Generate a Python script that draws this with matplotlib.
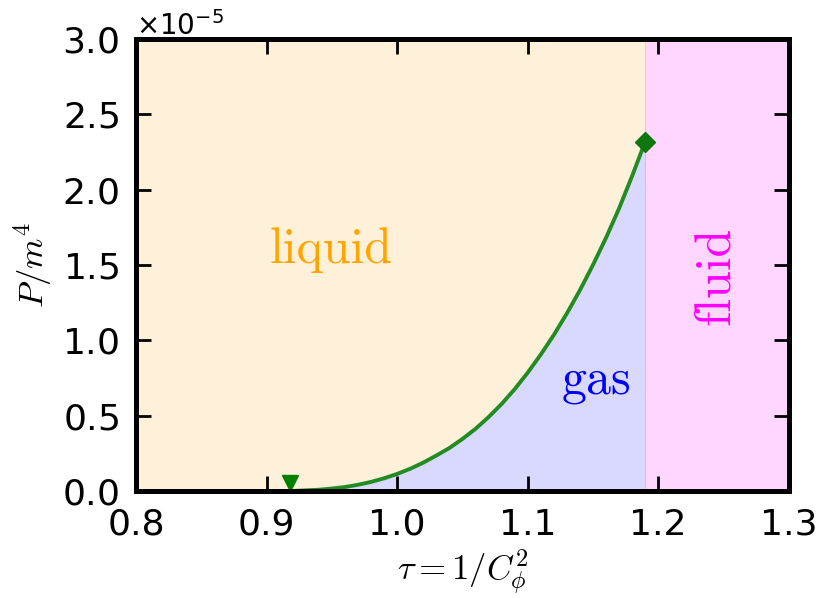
import matplotlib
matplotlib.use("Agg")
import matplotlib.pyplot as plt
import numpy as np

# coexistence curve, P in units of 1e-5
tau = [0.80, 0.90, 0.92, 0.93, 0.94, 0.95, 0.96, 0.97, 0.98, 0.99, 1.00,
       1.01, 1.02, 1.03, 1.04, 1.05, 1.06, 1.07, 1.08, 1.09, 1.10,
       1.11, 1.12, 1.13, 1.14, 1.15, 1.16, 1.17, 1.18, 1.19]
P = [0.0, 0.0, 0.0, 0.004, 0.008, 0.016, 0.026, 0.041, 0.06, 0.084, 0.113,
     0.147, 0.188, 0.235, 0.285, 0.345, 0.412, 0.49, 0.577, 0.675, 0.785,
     0.905, 1.035, 1.178, 1.332, 1.5, 1.68, 1.875, 2.09, 2.318]
tau_c, P_c = 1.19, 2.318       # critical point
tau_t, P_t = 0.918, 0.055      # triangle marker

scale = 1e-5
tau = np.array(tau)
P = np.array(P) * scale

fig = plt.figure(figsize=(8.18, 5.98), dpi=100)
ax = fig.add_axes([0.1663, 0.179, 0.798, 0.756])

ax.fill_between(tau, P, 3.0 * scale, color="orange", alpha=0.15, lw=0)
ax.fill_between(tau, 0, P, color="blue", alpha=0.15, lw=0)
ax.axvspan(tau_c, 1.3, color="magenta", alpha=0.16, lw=0.8)

ax.plot(tau, P, color="forestgreen", lw=2.8, zorder=3, solid_capstyle="round")
ax.plot([tau_t], [P_t * scale], "v", color="green", ms=11, mec="green", zorder=4, clip_on=False)
ax.plot([tau_c], [P_c * scale], "D", color="#0d770d", ms=10, zorder=4)

ax.text(0.949, 1.51 * scale, "liquid", color="orange", fontsize=36,
        family="cmr10", ha="center", va="baseline")
ax.text(1.153, 0.645 * scale, "gas", color="blue", fontsize=36,
        family="cmr10", ha="center", va="baseline")
ax.text(1.244, 1.43 * scale, "fluid", color="magenta", fontsize=36,
        family="cmr10", ha="center", va="center", rotation=90)

ax.set_xlim(0.8, 1.3)
ax.set_ylim(0, 3.0e-5)
ax.set_xticks([0.8, 0.9, 1.0, 1.1, 1.2, 1.3])
ax.set_yticks(np.arange(0, 3.01, 0.5) * scale)

xl = ax.set_xlabel(r"$\tau = 1/C_\phi^2$", fontsize=25, labelpad=4)
yl = ax.set_ylabel(r"$P/m^4$", fontsize=25, labelpad=6)
xl.set_math_fontfamily("cm")
yl.set_math_fontfamily("cm")

for s in ax.spines.values():
    s.set_linewidth(3.6)
    s.set_zorder(5)
ax.tick_params(direction="in", length=11, width=2, labelsize=26, pad=12,
               top=True, right=True)
ax.ticklabel_format(axis="y", style="sci", scilimits=(0, 0), useMathText=True)
ax.yaxis.get_offset_text().set_fontsize(20)

fig.savefig("out.png", dpi=100)
